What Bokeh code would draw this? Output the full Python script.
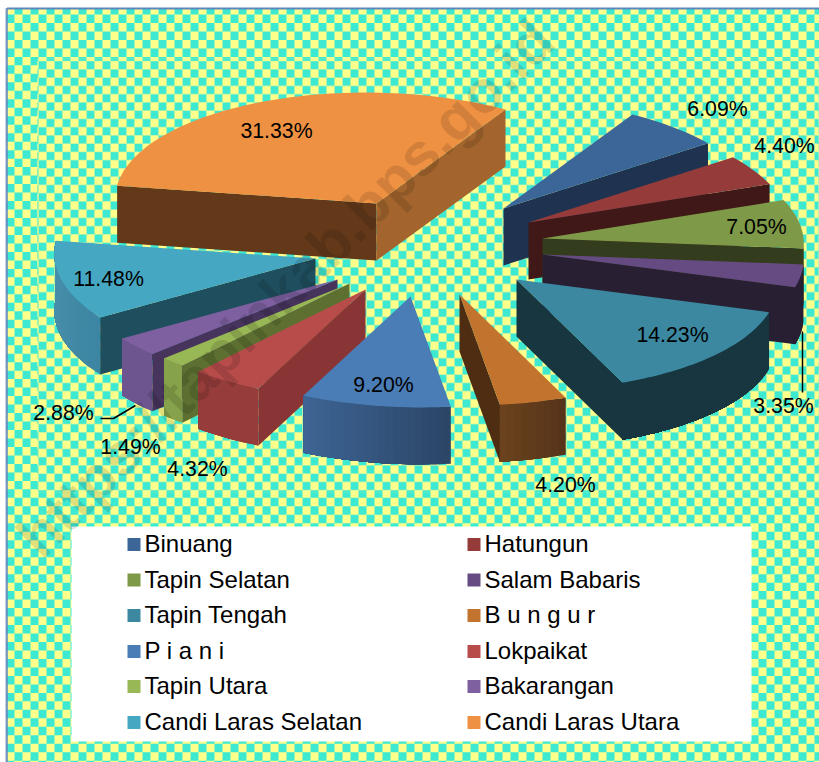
import numpy as np
from bokeh.plotting import figure
from bokeh.models import Range1d
from bokeh.core.properties import value
from bokeh.embed import file_html
from bokeh.resources import INLINE

# ---------- data ----------
districts = ["Binuang", "Hatungun", "Tapin Selatan", "Salam Babaris", "Tapin Tengah",
             "B u n g u r", "P i a n i", "Lokpaikat", "Tapin Utara", "Bakarangan",
             "Candi Laras Selatan", "Candi Laras Utara"]
shares = [6.09, 4.40, 7.05, 3.35, 14.23, 4.20, 9.20, 4.32, 1.49, 2.88, 11.48, 31.33]

# ---------- styles and layout ----------
top_colors = ["#3d6698", "#953c3b", "#7e9a48", "#654b82", "#3b88a0", "#c2742f",
              "#4a7cb6", "#b74c4a", "#98b755", "#7e60a0", "#46a7c3", "#ee9142"]
cut_colors = ["#1f3350", "#3f1817", "#333c1c", "#281f33", "#173640", "#4f2d12",
              "#2c4568", "#8a3535", "#5d7032", "#46345c", "#1f4f5e", "#63391a"]
end_cut_override = {11: "#a3652d"}
arc_right = ["#1f3350", "#3f1817", "#333c1c", "#281f33", "#173640", "#55331a",
             "#2b4566", "#963d3c", "#87a24b", "#6d5690", "#3d86a3", "#63391a"]
arc_left = ["#1f3350", "#3f1817", "#333c1c", "#281f33", "#173640", "#6b431d",
            "#3d6595", "#963d3c", "#87a24b", "#6d5690", "#4b93ae", "#63391a"]
apex_x = [503, 528, 542, 542, 516, 459, 410, 365, 349, 337, 315, 376]
apex_y = [208, 222, 238, 254, 279, 294, 296, 289, 283, 279, 258, 203]
pie_radius = 261
first_angle = 32.0
squash = 0.425
shear = 0.042
depth = 57

label_x = [717, 784, 756, 783, 672, 565, 383, 197, 130, 63, 108, 276]
label_y = [108, 145, 226, 405, 334, 484, 384, 468, 446, 412, 278, 130]

W, H = 819, 762
YELLOW, TURQ = "#ffff8c", "#3ee9d2"

p = figure(width=W, height=H, x_range=Range1d(0, W), y_range=Range1d(H, 0),
           output_backend="svg", toolbar_location=None, min_border=0,
           outline_line_color=None,
           background_fill_color="white", border_fill_color="white")
p.axis.visible = False
p.grid.visible = False


def checker(x0, x1, y0, y1, xs0, ys0, xstep, ystep, phase, inset=0.0):
    """one path of alternating squares, clipped to the box"""
    px, py = [], []
    i0 = int(np.floor((x0 - xs0) / xstep)) - 1
    i1 = int(np.ceil((x1 - xs0) / xstep)) + 1
    j0 = int(np.floor((y0 - ys0) / ystep)) - 1
    j1 = int(np.ceil((y1 - ys0) / ystep)) + 1
    for j in range(j0, j1):
        for i in range(i0, i1):
            if (i + j + phase) % 2:
                continue
            a = max(xs0 + i * xstep + inset, x0)
            b = min(xs0 + (i + 1) * xstep - inset, x1)
            c = max(ys0 + j * ystep + inset, y0)
            d = min(ys0 + (j + 1) * ystep - inset, y1)
            if a < b and c < d:
                px += [a, b, b, a, np.nan]
                py += [c, c, d, d, np.nan]
    return px, py


# outer background
p.quad(left=[6], right=[W], top=[8], bottom=[H], fill_color=YELLOW, line_color=None)
x, y = checker(6, W, 8, H, 6, 5.5, 8, 8.48, 1)
p.patch(x, y, fill_color=TURQ, line_color=None)

# plot-area tile, softer edges
p.quad(left=[37], right=[W - 1], top=[58], bottom=[492], fill_color="#b5f3a6", line_color=None)
x, y = checker(37, W - 1, 58, 492, 6, 60.6, 8, 8.25, 0, 0.45)
p.patch(x, y, fill_color=TURQ, line_color=None)
x, y = checker(37, W - 1, 58, 492, 6, 60.6, 8, 8.25, 1, 0.45)
p.patch(x, y, fill_color=YELLOW, line_color=None)

# frame
p.line([5.5, 5.5], [7.5, H], line_color="#aebfdc", line_width=1.5)
p.line([6.5, W], [8, 8], line_color="#5b86c0", line_width=2)
p.line([6.5, 6.5], [8, H], line_color="#5b86c0", line_width=1.5)

# ---------- exploded pie ----------
frac = np.array(shares) / sum(shares)
edges = first_angle + np.concatenate([[0], np.cumsum(frac)]) * 360.0


def hex2rgb(h):
    return np.array([int(h[i:i + 2], 16) for i in (1, 3, 5)], float)


def mix(a, b, f):
    c = hex2rgb(a) * (1 - f) + hex2rgb(b) * f
    return "#%02x%02x%02x" % tuple(int(round(v)) for v in c)


def project(ax, ay, r, deg):
    t = np.radians(deg)
    return ax + r * np.sin(t) - shear * r * np.cos(t), ay - r * squash * np.cos(t)


polys_x, polys_y, polys_c = [], [], []


def add(px, py, c):
    polys_x.append(list(px))
    polys_y.append(list(py))
    polys_c.append(c)


draw_order = [11, 10, 9, 8, 7, 6, 5, 0, 1, 2, 3, 4]
for i in draw_order:
    ax, ay, r = apex_x[i], apex_y[i], pie_radius
    a0, a1 = edges[i], edges[i + 1]
    # rim, band by band, only where it faces the viewer
    tt = np.linspace(a0, a1, max(8, int((a1 - a0) / 1.5)))
    for s in range(len(tt) - 1):
        mid = 0.5 * (tt[s] + tt[s + 1])
        if np.cos(np.radians(mid)) < 0:
            # every band runs on to the end of the rim, so no seams appear
            seg = tt[s:]
            sx, sy = project(ax, ay, r, seg)
            c = mix(arc_right[i], arc_left[i], (mid - a0) / (a1 - a0))
            add(list(sx) + list(sx[::-1]), list(sy) + list(sy[::-1] + depth), c)
    # the two cut faces
    if np.sin(np.radians(a0)) < 0:
        x0, y0 = project(ax, ay, r, a0)
        add([ax, x0, x0, ax], [ay, y0, y0 + depth, ay + depth], cut_colors[i])
    if np.sin(np.radians(a1)) > 0:
        x0, y0 = project(ax, ay, r, a1)
        add([ax, x0, x0, ax], [ay, y0, y0 + depth, ay + depth],
            end_cut_override.get(i, cut_colors[i]))
    # top face
    tx, ty = project(ax, ay, r, tt)
    add([ax] + list(tx), [ay] + list(ty), top_colors[i])

p.patches(polys_x, polys_y, fill_color=polys_c, line_color=None)

# leader lines
p.line([802, 802], [331, 392], line_color="black", line_width=1.5)
p.line([100, 113, 135], [418, 418, 405], line_color="black", line_width=1.5)

# data labels
p.text(label_x, label_y, text=[f"{v:.2f}%" for v in shares], text_font=value("Liberation Sans"),
       text_font_size="21.3px", text_color="black", text_align="center", text_baseline="middle")

# ---------- legend ----------
p.quad(left=[71], right=[751], top=[526], bottom=[741], fill_color="white", line_color=None)
rows = [543, 578.5, 614, 650, 685, 721]
lx = [127 if k % 2 == 0 else 467 for k in range(len(districts))]
ly = [rows[k // 2] for k in range(len(districts))]
p.quad(left=lx, right=[v + 13 for v in lx], top=[v - 5.5 for v in ly], bottom=[v + 7.5 for v in ly],
       fill_color=top_colors, line_color=None)
p.text([v + 17 for v in lx], ly, text=districts, text_font=value("Liberation Sans"),
       text_font_size="24px", text_color="black", text_align="left", text_baseline="middle")

# ---------- watermark ----------
p.text([285], [288], text=["https://tapinkab.bps.go.id"], angle=[np.pi / 4], text_font=value("Liberation Sans"),
       text_font_style="bold", text_font_size="60px", text_color="black", text_alpha=0.12,
       text_align="center", text_baseline="middle")

open("out.html", "w").write(file_html(p, INLINE))
